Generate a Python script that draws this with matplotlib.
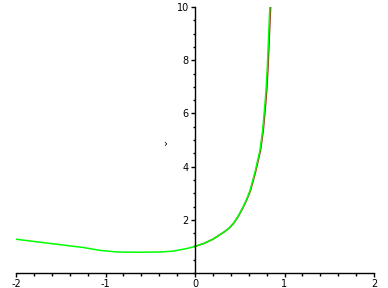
import matplotlib
matplotlib.use('Agg')
import matplotlib.pyplot as plt
from matplotlib.ticker import MultipleLocator

# values
green_x = [-2.0, -1.62, -1.25, -1.06, -0.87, -0.63, -0.39, -0.25, -0.09, 0.0,
           0.1, 0.2, 0.316, 0.38, 0.428, 0.48, 0.54, 0.58, 0.615, 0.67, 0.726,
           0.756, 0.782, 0.793, 0.808, 0.819, 0.830, 0.836]
green_y = [1.27, 1.11, 0.96, 0.85, 0.79, 0.78, 0.79, 0.82, 0.92, 1.0,
           1.11, 1.27, 1.52, 1.68, 1.86, 2.12, 2.50, 2.80, 3.10, 3.79, 4.61,
           5.36, 6.37, 6.85, 7.72, 8.61, 9.48, 10.0]
red_x = [0.0, 0.1, 0.2, 0.316, 0.38, 0.43, 0.482, 0.543, 0.584, 0.62, 0.676,
         0.732, 0.763, 0.79, 0.801, 0.816, 0.827, 0.838, 0.845]
red_y = [1.0, 1.11, 1.27, 1.52, 1.68, 1.86, 2.12, 2.50, 2.80, 3.10, 3.79,
         4.61, 5.36, 6.37, 6.85, 7.72, 8.61, 9.48, 10.0]

xticks = [-2, -1, 0, 1, 2]
yticks = [2, 4, 6, 8, 10]

plt.rcParams['axes.unicode_minus'] = False
plt.rcParams['font.family'] = 'DejaVu Sans'

fig = plt.figure(figsize=(3.88, 2.88), dpi=100, facecolor='white')
ax = fig.add_axes([16/388, 15/288, 358/388, 266/288])

ax.plot(red_x, red_y, color='#b22222', linewidth=1.1)
ax.plot(green_x, green_y, color='#00ff00', linewidth=1.1)

# stray mark in the original
ax.text(-0.33, 4.87, '\u203a', fontsize=7, ha='center', va='center')

ax.set_xlim(-2, 2)
ax.set_ylim(0, 10)
ax.spines['left'].set_position(('data', 0))
ax.spines['bottom'].set_position(('data', 0))
ax.spines['top'].set_visible(False)
ax.spines['right'].set_visible(False)
ax.spines['left'].set_linewidth(1)
ax.spines['bottom'].set_linewidth(1)

ax.set_xticks(xticks)
ax.set_xticklabels([str(t) for t in xticks])
ax.set_yticks(yticks)
ax.set_yticklabels([str(t) for t in yticks])
ax.xaxis.set_minor_locator(MultipleLocator(0.2))
ax.yaxis.set_minor_locator(MultipleLocator(0.5))
ax.tick_params(which='major', length=3, width=1, labelsize=7, pad=1.5, direction='out')
ax.tick_params(which='minor', length=1.8, width=1, direction='out')
ax.patch.set_visible(False)

fig.savefig('out.png', dpi=100, facecolor='white')
